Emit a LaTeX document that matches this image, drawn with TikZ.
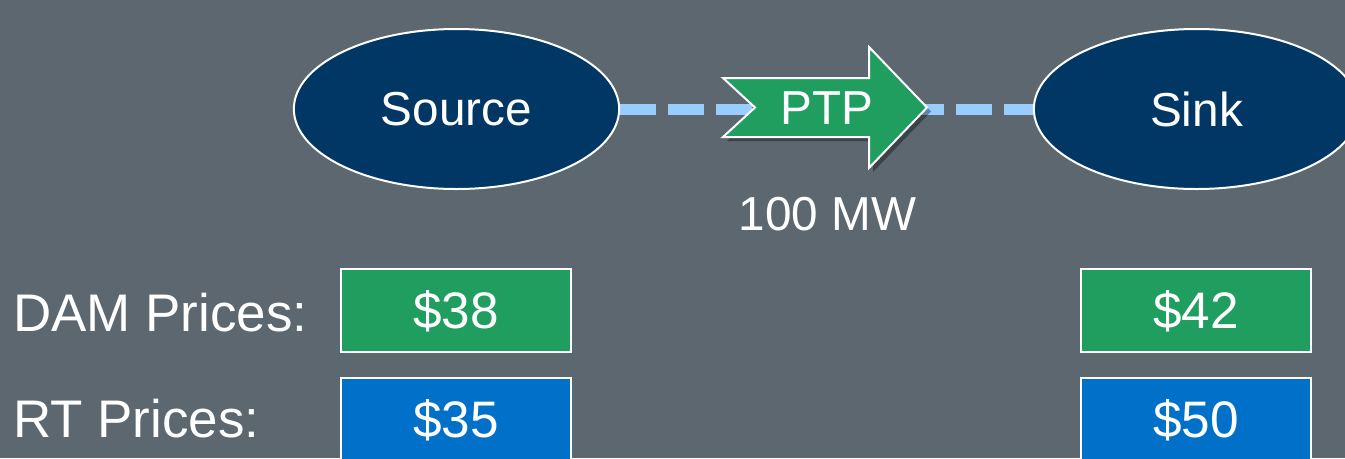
\documentclass[tikz,border=0pt]{standalone}
\usepackage{fontspec}
\setmainfont{Liberation Sans}
\usetikzlibrary{shapes.geometric,shadows,calc}
\pgfdeclarelayer{background}
\pgfsetlayers{background,main}
\definecolor{bgc}{HTML}{5D6770}
\definecolor{navy}{HTML}{003764}
\definecolor{grn}{HTML}{209E5F}
\definecolor{blu}{HTML}{0070C8}
\definecolor{dashc}{HTML}{99CCFF}
\tikzset{
  ellnode/.style={ellipse, draw=white, line width=1.5pt, fill=navy, text=white,
    minimum width=244pt, minimum height=120pt, inner sep=0pt,
    font=\fontsize{35.75}{40}\selectfont},
  pricebox/.style={rectangle, draw=white, line width=1.5pt, text=white,
    minimum width=172.5pt, minimum height=62.25pt, inner sep=0pt,
    text height=27.6pt, text depth=0pt,
    font=\fontsize{38.5}{44}\selectfont},
  greenbox/.style={pricebox, fill=grn},
  bluebox/.style={pricebox, fill=blu},
  labeltext/.style={text=white, anchor=base west, inner sep=0pt,
    font=\fontsize{39.7}{44}\selectfont},
  flowline/.style={draw=dashc, line width=8.25pt, dash pattern=on 27pt off 9pt},
  arrowshape/.style={fill=grn, draw=white, line width=1.5pt, line join=miter,
    drop shadow={shadow xshift=3pt, shadow yshift=-3pt, opacity=0.35, fill=black}},
  plaintext/.style={text=white, inner sep=0pt, font=\fontsize{35.75}{40}\selectfont}
}
\begin{document}
\begin{tikzpicture}[x=0.75pt, y=-0.75pt]
\useasboundingbox (0,0) rectangle (1345,458);
\clip (0,0) rectangle (1345,458);

% nodes
\node[ellnode] (source) at (456.5,109) {Source};
\node[ellnode] (sink) at (1196.5,109) {Sink};

% background and dashed connector behind the nodes
\begin{pgfonlayer}{background}
\fill[bgc] (0,0) rectangle (1345,458);
\path[flowline] (source.east) -- (sink.west);
\end{pgfonlayer}

% PTP arrow
\coordinate (pc) at (825,107.5);
\path[arrowshape] ($(pc)+(-102,-29.5)$) -- ($(pc)+(44,-29.5)$) -- ($(pc)+(44,-60.5)$)
  -- ($(pc)+(102,0)$) -- ($(pc)+(44,60.5)$) -- ($(pc)+(44,29.5)$)
  -- ($(pc)+(-102,29.5)$) -- ($(pc)+(-70,0)$) -- cycle;
\node[plaintext, anchor=base] (ptp) at (827,124) {PTP};
\node[plaintext, anchor=base] (mw) at (827.5,230) {100 MW};

% labels
\node[labeltext] (damlbl) at (13,331) {DAM Prices:};
\node[labeltext] (rtlbl) at (13,437) {RT Prices:};

% price boxes
\node[greenbox] (dam1) at (456,310.5) {\$38};
\node[greenbox] (dam2) at (1196,310.5) {\$42};
\node[bluebox] (rt1) at (456,419.5) {\$35};
\node[bluebox] (rt2) at (1196,419.5) {\$50};
\end{tikzpicture}
\end{document}
